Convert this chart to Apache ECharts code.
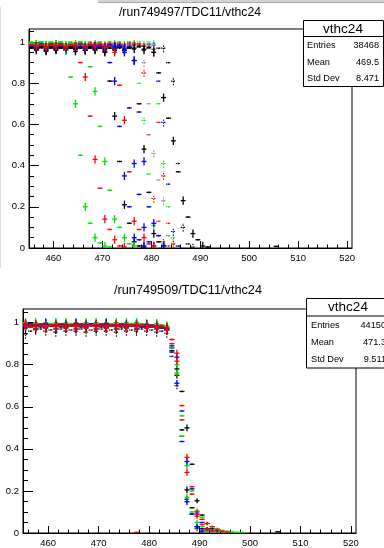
<!DOCTYPE html>
<html><head><meta charset="utf-8">
<script src="https://cdn.jsdelivr.net/npm/echarts@6/dist/echarts.min.js"></script>
<style>html,body{margin:0;padding:0;background:#fff;}#c{width:384px;height:548px;}</style>
</head><body><div id="c"></div>
<script>
// ---------------- data ----------------
const binStart = 455.5;            // centre of first bin, bin width 1
const xMin = 455, xMax = 521;
const xLabelValues = [460, 470, 480, 490, 500, 510, 520];
const xMinorValues = [456,458,462,464,466,468,472,474,476,478,482,484,486,488,492,494,496,498,502,504,506,508,512,514,516,518];
const yLabelValues = [0, 0.2, 0.4, 0.6, 0.8, 1];
const yMinorValues = [0.05,0.1,0.15,0.25,0.3,0.35,0.45,0.5,0.55,0.65,0.7,0.75,0.85,0.9,0.95,1.05];

const topTitle = "/run749497/TDC11/vthc24";
const botTitle = "/run749509/TDC11/vthc24";
const statName = "vthc24";
const statLabels = ["Entries", "Mean", "Std Dev"];
const topStatValues = ["38468", "469.5", "8.471"];
const botStatValues = ["44150", "471.3", "9.511"];

// top plot: efficiencies per bin starting at binStart
const topK1 = [0.975,0.965,0.975,0.96,0.975,0.965,0.97,0.96,0.975,0.965,0.97,0.96,0.975,0.965,0.97,0.95,0.81,0.64,0.42,0.21,0.12,0.03,0.01,0.005];
const topK2 = [0.97,0.96,0.975,0.955,0.97,0.96,0.975,0.96,0.97,0.955,0.975,0.96,0.97,0.96,0.975,0.955,0.97,0.96,0.975,0.96,0.97,0.91,0.70,0.48,0.27,0.07,0.03,0.01];
const topK3 = [0.98,0.97,0.98,0.965,0.98,0.97,0.975,0.965,0.98,0.97,0.975,0.96,0.98,0.97,0.975,0.965,0.98,0.97,0.975,0.96,0.975,0.97,0.98,0.965,0.975,0.95,0.85,0.73,0.63,0.52,0.37,0.23,0.15,0.07,0.04,0.01,0.005];
const topK4 = [0.97,0.965,0.97,0.96,0.975,0.965,0.97,0.96,0.97,0.965,0.975,0.96,0.97,0.965,0.97,0.96,0.975,0.965,0.97,0.96,0.97,0.965,0.975,0.96,0.97,0.965,0.97,0.97,0.90,0.81,0.41,0.10,0.02,0.005];
const topKG = [0.98,0.975,0.98,0.97,0.985,0.975,0.98,0.97,0.98,0.975,0.985,0.97,0.98,0.975,0.98,0.97,0.985,0.975,0.98,0.97,0.98,0.975,0.98,0.90,0.70,0.46,0.33,0.23,0.06,0.02,0.005];
const topR1 = [0.985,0.98,0.985,0.975,0.985,0.98,0.99,0.975,0.985,0.98,0.90,0.83,0.64,0.43,0.29,0.14,0.09,0.04,0.01,0.005];
const topR2 = [0.985,0.98,0.985,0.975,0.99,0.98,0.985,0.975,0.985,0.98,0.99,0.975,0.985,0.98,0.985,0.975,0.98,0.95,0.79,0.62,0.37,0.13,0.09,0.05,0.02,0.01];
const topR3 = [0.995,0.99,0.995,0.985,0.995,0.99,0.995,0.985,0.995,0.99,0.995,0.985,0.995,0.99,0.995,0.985,0.995,0.99,0.995,0.985,0.995,0.99,0.99,0.85,0.55,0.24,0.13,0.03,0.01];
const topR4 = [0.99,0.985,0.99,0.98,0.99,0.985,0.99,0.98,0.99,0.985,0.99,0.98,0.99,0.985,0.99,0.98,0.99,0.985,0.99,0.98,0.99,0.985,0.99,0.98,0.985,0.95,0.61,0.35,0.12,0.02];
const topG1 = [0.995,0.99,0.995,0.985,0.995,0.99,0.995,0.96,0.83,0.70,0.45,0.20,0.12,0.05,0.025,0.01,0.005];
const topG2 = [0.995,0.99,1.0,0.985,0.995,0.99,1.0,0.985,0.995,0.99,1.0,0.985,0.88,0.76,0.59,0.42,0.28,0.14,0.10,0.05,0.02,0.01];
const topG3 = [1.0,0.995,1.0,0.99,1.0,0.995,1.0,0.99,1.0,0.995,1.0,0.99,1.0,0.995,1.0,0.99,1.0,0.995,1.0,0.99,1.0,0.995,0.80,0.62,0.36,0.11,0.06,0.02];
const topG4 = [1.0,0.995,1.0,0.99,1.0,0.995,1.0,0.99,1.0,0.995,1.0,0.99,1.0,0.995,1.0,0.99,1.0,0.995,1.0,0.99,1.0,0.995,1.0,0.99,1.0,0.995,0.70,0.41,0.20,0.05,0.01];
const topB1 = [0.985,0.98,0.99,0.975,0.985,0.98,0.99,0.975,0.985,0.98,0.99,0.975,0.985,0.98,0.985,0.975,0.90,0.81,0.59,0.35,0.20,0.05,0.04,0.01];
const topB2 = [0.985,0.98,0.985,0.975,0.99,0.98,0.985,0.975,0.985,0.98,0.99,0.975,0.985,0.98,0.985,0.975,0.985,0.98,0.985,0.95,0.68,0.41,0.26,0.10,0.03,0.01];
const topB3 = [0.98,0.975,0.985,0.97,0.985,0.975,0.98,0.97,0.985,0.975,0.98,0.97,0.985,0.975,0.98,0.97,0.985,0.975,0.98,0.97,0.98,0.91,0.66,0.42,0.20,0.12,0.06,0.01];
const topB4 = [0.99,0.985,0.99,0.98,0.99,0.985,0.99,0.98,0.99,0.985,0.99,0.98,0.99,0.985,0.99,0.98,0.99,0.985,0.99,0.98,0.99,0.985,0.99,0.98,0.99,0.985,0.81,0.61,0.31,0.08,0.01];
const topStrayX = [505.5];
const topStrayY = [0.008];
// per-bin error bar half-heights, top plot
const topErr = [0.004,0.02,0.004,0.02,0.004,0.02,0.004,0.02,0.004,0.02,0.004,0.02,0.004,0.02,0.004,0.02,0.004,0.02,0.004,0.02,0.004,0.02,0.004,0.02,0.004,0.02,0.004,0.02,0.004,0.02,0.004,0.02,0.004,0.02,0.004,0.02,0.004,0.02,0.004,0.02,0.004,0.02,0.004,0.02,0.004,0.02,0.004,0.02,0.004,0.02,0.004];

// bottom plot
const botK1 = [0.975,0.98,0.97,0.98,0.975,0.985,0.97,0.98,0.975,0.985,0.97,0.98,0.975,0.985,0.97,0.98,0.975,0.985,0.97,0.98,0.975,0.985,0.97,0.98,0.975,0.98,0.97,0.975,0.965,0.88,0.78,0.673,0.50,0.327,0.153,0.085,0.02,0.02,0.01];
const botK2 = [0.99,0.985,0.985,0.99,0.98,0.99,0.985,0.99,0.98,0.99,0.985,0.99,0.98,0.99,0.985,0.99,0.98,0.99,0.985,0.99,0.98,0.99,0.985,0.99,0.98,0.985,0.98,0.98,0.97,0.867,0.75,0.49,0.205,0.12,0.03,0.02,0.01];
const botKD = [0.945,0.96,0.965,0.97,0.96,0.965,0.955,0.97,0.96,0.965,0.96,0.97,0.955,0.965,0.96,0.97,0.96,0.965,0.955,0.97,0.96,0.965,0.96,0.97,0.96,0.965,0.955,0.96,0.95,0.84,0.70,0.46,0.16,0.09,0.02,0.005];
const botR1 = [0.995,0.99,0.99,0.995,0.985,0.99,0.99,0.995,0.985,0.99,0.99,0.995,0.985,0.99,0.99,0.995,0.985,0.99,0.99,0.995,0.985,0.99,0.99,0.99,0.985,0.99,0.98,0.985,0.975,0.92,0.855,0.606,0.36,0.22,0.10,0.065,0.045,0.03,0.015,0.008,0.004];
const botR2 = [0.985,0.98,0.98,0.985,0.975,0.985,0.98,0.985,0.975,0.985,0.98,0.985,0.975,0.985,0.98,0.985,0.975,0.985,0.98,0.985,0.975,0.985,0.98,0.985,0.975,0.98,0.975,0.98,0.965,0.90,0.817,0.538,0.288,0.185,0.08,0.04,0.02,0.01];
const botB1 = [0.99,0.995,0.99,0.99,0.995,0.99,0.99,0.995,0.99,0.99,0.995,0.99,0.99,0.995,0.99,0.99,0.995,0.99,0.99,0.995,0.99,0.99,0.99,0.985,0.99,0.985,0.985,0.98,0.975,0.89,0.836,0.58,0.34,0.21,0.09,0.05,0.02,0.01];
const botB2 = [0.985,0.99,0.985,0.985,0.99,0.985,0.985,0.99,0.985,0.985,0.99,0.985,0.985,0.99,0.985,0.985,0.99,0.985,0.985,0.99,0.985,0.985,0.985,0.98,0.985,0.98,0.98,0.975,0.97,0.86,0.712,0.435,0.149,0.09,0.03,0.01];
const botG1 = [1.0,0.995,1.0,0.995,1.0,0.995,1.0,0.995,1.0,0.995,1.0,0.995,1.0,0.995,1.0,0.995,1.0,0.995,1.0,0.995,1.0,0.995,1.0,0.995,0.995,0.99,0.995,0.99,0.985,0.92,0.80,0.557,0.32,0.20,0.105,0.075,0.045,0.03,0.02,0.012,0.008,0.005,0.003,0.002];
const botG2 = [0.995,0.99,0.995,0.99,0.995,0.99,0.995,0.99,0.995,0.99,0.995,0.99,0.995,0.99,0.995,0.99,0.995,0.99,0.995,0.99,0.995,0.99,0.995,0.99,0.99,0.985,0.99,0.985,0.98,0.88,0.761,0.46,0.17,0.10,0.05,0.03,0.01];
const botStrayX = [477.5, 505.5];
const botStrayY = [0.003, 0.006];
const botErr = [0.022,0.004,0.022,0.004,0.022,0.004,0.022,0.004,0.022,0.004,0.022,0.004,0.022,0.004,0.022,0.004,0.022,0.004,0.022,0.004,0.022,0.004,0.022,0.004,0.022,0.004,0.022,0.004,0.022,0.004,0.016,0.004,0.016,0.004,0.012,0.004,0.008,0.004,0.006,0.004,0.004,0.004,0.004,0.004,0.004,0.004,0.004,0.004,0.004,0.004,0.004];

// ---------------- chart ----------------
const FONT = "'Liberation Sans', Arial, sans-serif";
const BLACK = '#000000', RED = '#ff0000', GREEN = '#00e000', BLUE = '#0000ff', GRAY = '#8a8a8a';
const Y_TOP = 1.063, Y_BOT = 1.065;

function pts(arr, err) {
  const out = [];
  arr.forEach((v, i) => { if (v !== null) out.push([binStart + i, v, err[i]]); });
  return out;
}
function strayPts(xs, ys) { return xs.map((x, i) => [x, ys[i], 0.003]); }

function series(data, color, dashed, gi, yMax) {
  return {
    type: 'custom', xAxisIndex: gi * 2, yAxisIndex: gi * 2, data: data,
    encode: { x: 0, y: 1 }, silent: true, animation: false,
    renderItem: function (params, api) {
      const x = api.value(0), y = api.value(1), e = api.value(2);
      const l = api.coord([x - 0.5, y]), r = api.coord([x + 0.5, y]);
      const lo = api.coord([x, Math.max(0, y - e)]), hi = api.coord([x, Math.min(yMax, y + e)]);
      const st = { stroke: color, lineWidth: dashed ? 1.1 : 1.3, lineDash: dashed ? [1.5, 1.2] : null, fill: null };
      return { type: 'group', children: [
        { type: 'line', shape: { x1: l[0], y1: l[1], x2: r[0], y2: r[1] }, style: st },
        { type: 'line', shape: { x1: lo[0], y1: lo[1], x2: hi[0], y2: hi[1] }, style: st }
      ]};
    }
  };
}

function axesFor(gi, yMax) {
  const lab = { fontFamily: FONT, fontSize: 9.5, color: '#000' };
  const xs = [
    { type: 'value', gridIndex: gi, position: 'bottom', min: xMin, max: xMax,
      axisLine: { show: true, lineStyle: { color: '#000', width: 1 } },
      axisTick: { show: true, inside: true, length: 7, customValues: xLabelValues, lineStyle: { color: '#000' } },
      axisLabel: Object.assign({ customValues: xLabelValues, margin: 5 }, lab),
      splitLine: { show: false } },
    { type: 'value', gridIndex: gi, position: 'bottom', offset: 0, min: xMin, max: xMax,
      axisLine: { show: false }, axisLabel: { show: false }, splitLine: { show: false },
      axisTick: { show: true, inside: true, length: 3.5, customValues: xMinorValues, lineStyle: { color: '#000' } } }
  ];
  const ys = [
    { type: 'value', gridIndex: gi, position: 'left', min: 0, max: yMax,
      axisLine: { show: true, lineStyle: { color: '#000', width: 1 } },
      axisTick: { show: true, inside: true, length: 10, customValues: yLabelValues, lineStyle: { color: '#000' } },
      axisLabel: Object.assign({ customValues: yLabelValues, margin: 4, formatter: v => String(+(+v).toFixed(1)) }, lab),
      splitLine: { show: false } },
    { type: 'value', gridIndex: gi, position: 'left', offset: 0, min: 0, max: yMax,
      axisLine: { show: false }, axisLabel: { show: false }, splitLine: { show: false },
      axisTick: { show: true, inside: true, length: 5, customValues: yMinorValues, lineStyle: { color: '#000' } } }
  ];
  return { xs, ys };
}

const a0 = axesFor(0, Y_TOP), a1 = axesFor(1, Y_BOT);

function statBox(x, y, w, h, titleH, labelX, valueX, rowYs, titleCX, vals) {
  const els = [
    { type: 'rect', shape: { x: x, y: y, width: w, height: h }, style: { fill: '#fff', stroke: '#000', lineWidth: 1 }, z: 100 },
    { type: 'line', shape: { x1: x, y1: y + titleH, x2: x + w, y2: y + titleH }, style: { stroke: '#000', lineWidth: 1 }, z: 101 },
    { type: 'text', x: titleCX, y: y + titleH / 2 + 0.5, style: { text: statName, font: '13.5px ' + FONT, fill: '#000', align: 'center', verticalAlign: 'middle' }, z: 101 }
  ];
  statLabels.forEach((s, i) => {
    els.push({ type: 'text', x: labelX, y: rowYs[i], style: { text: s, font: '9.2px ' + FONT, fill: '#000', align: 'left', verticalAlign: 'middle' }, z: 101 });
    els.push({ type: 'text', x: valueX, y: rowYs[i], style: { text: vals[i], font: '9.2px ' + FONT, fill: '#000', align: 'right', verticalAlign: 'middle' }, z: 101 });
  });
  return els;
}

const option = {
  backgroundColor: '#fff',
  animation: false,
  grid: [
    { left: 29, top: 29, width: 323, height: 219, show: true, borderColor: '#000', borderWidth: 1, backgroundColor: 'transparent' },
    { left: 23, top: 309, width: 333, height: 229, show: true, borderColor: '#000', borderWidth: 1, backgroundColor: 'transparent' }
  ],
  xAxis: a0.xs.concat(a1.xs.map(a => Object.assign({}, a))),
  yAxis: a0.ys.concat(a1.ys.map(a => Object.assign({}, a))),
  series: [
    series(pts(topK4, topErr), BLACK, true, 0, Y_TOP),
    series(pts(topKG, topErr), GRAY, true, 0, Y_TOP),
    series(pts(topG3, topErr), GREEN, true, 0, Y_TOP),
    series(pts(topG4, topErr), GREEN, true, 0, Y_TOP),
    series(pts(topB4, topErr), BLUE, true, 0, Y_TOP),
    series(pts(topR3, topErr), RED, true, 0, Y_TOP),
    series(pts(topR4, topErr), RED, true, 0, Y_TOP),
    series(pts(topK1, topErr), BLACK, false, 0, Y_TOP),
    series(pts(topK2, topErr), BLACK, false, 0, Y_TOP),
    series(pts(topK3, topErr), BLACK, false, 0, Y_TOP),
    series(strayPts(topStrayX, topStrayY), BLACK, false, 0, Y_TOP),
    series(pts(topG1, topErr), GREEN, false, 0, Y_TOP),
    series(pts(topG2, topErr), GREEN, false, 0, Y_TOP),
    series(pts(topB1, topErr), BLUE, false, 0, Y_TOP),
    series(pts(topB2, topErr), BLUE, false, 0, Y_TOP),
    series(pts(topB3, topErr), BLUE, false, 0, Y_TOP),
    series(pts(topR1, topErr), RED, false, 0, Y_TOP),
    series(pts(topR2, topErr), RED, false, 0, Y_TOP),

    series(pts(botKD, botErr), BLACK, true, 1, Y_BOT),
    series(pts(botK1, botErr), BLACK, false, 1, Y_BOT),
    series(pts(botK2, botErr), BLACK, false, 1, Y_BOT),
    series(pts(botG1, botErr), GREEN, false, 1, Y_BOT),
    series(pts(botG2, botErr), GREEN, false, 1, Y_BOT),
    series(pts(botB1, botErr), BLUE, false, 1, Y_BOT),
    series(pts(botB2, botErr), BLUE, false, 1, Y_BOT),
    series(pts(botR2, botErr), RED, false, 1, Y_BOT),
    series(pts(botR1, botErr), RED, false, 1, Y_BOT),
    series(strayPts(botStrayX, botStrayY.slice(0, 1)), RED, false, 1, Y_BOT),
    series(strayPts(botStrayX.slice(1), botStrayY.slice(1)), BLACK, false, 1, Y_BOT)
  ],
  graphic: [].concat(
    [
      { type: 'rect', shape: { x: 98, y: 0, width: 290, height: 2.5 }, style: { fill: '#d4d4d4' }, z: 90 },
      { type: 'line', shape: { x1: 98, y1: 2.5, x2: 384, y2: 2.5 }, style: { stroke: '#a8a8a8', lineWidth: 1 }, z: 90 },
      { type: 'line', shape: { x1: 0.5, y1: 7, x2: 0.5, y2: 268 }, style: { stroke: '#dcdcdc', lineWidth: 1 }, z: 90 },
      { type: 'text', x: 190, y: 13, style: { text: topTitle, font: '12.2px ' + FONT, fill: '#000', align: 'center', verticalAlign: 'middle' }, z: 101 },
      { type: 'text', x: 188, y: 290, style: { text: botTitle, font: '12.7px ' + FONT, fill: '#000', align: 'center', verticalAlign: 'middle' }, z: 101 }
    ],
    statBox(303.5, 20.5, 80, 66, 16, 307, 379, [45, 62, 78.5], 343, topStatValues),
    statBox(306.5, 298.5, 90, 69.5, 17.5, 311, 386, [325, 342, 359], 348, botStatValues)
  )
};

const chart = echarts.init(document.getElementById('c'), null, { renderer: 'canvas', width: 384, height: 548 });
chart.setOption(option);
</script></body></html>
